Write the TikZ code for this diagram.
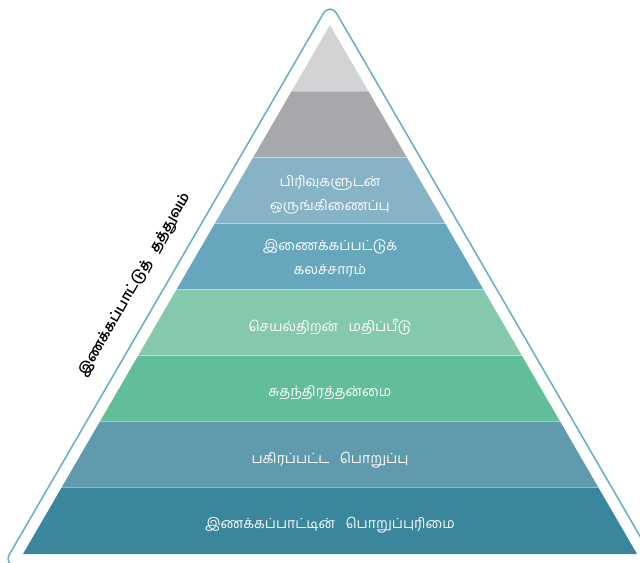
\documentclass[tikz,border=0pt]{standalone}
\usepackage{fontspec}
\usetikzlibrary{calc}
\newfontfamily\tamilfont[Script=Tamil]{Hind Madurai}
\definecolor{pyrgraylight}{HTML}{D2D3D5}
\definecolor{pyrgray}{HTML}{A7A8AC}
\definecolor{pyrbluelight}{HTML}{86B3C5}
\definecolor{pyrblue}{HTML}{66A7BD}
\definecolor{pyrgreenlight}{HTML}{85C9AC}
\definecolor{pyrgreen}{HTML}{62BE9A}
\definecolor{pyrteallight}{HTML}{5F9AAD}
\definecolor{pyrteal}{HTML}{3A869C}
\definecolor{pyrline}{HTML}{6AAFC6}

\begin{document}
\begin{tikzpicture}[
        x=0.025cm, y=-0.025cm,
        layertext/.style={
          text=white,
          align=center,
          font=\tamilfont\fontsize{10}{17}\selectfont
        },
        sidetext/.style={
          text=black,
          rotate=60,
          font=\tamilfont\bfseries\fontsize{10}{14}\selectfont
        },
        separator/.style={
          white,
          opacity=0.35,
          line width=0.6pt
        },
        outline/.style={
          pyrline,
          line width=1.1pt,
          rounded corners=10
        }
      ]
      \useasboundingbox (0,0) rectangle (640,562);
      \clip (0,0) rectangle (640,562);

      \coordinate (apex) at (330,25);
      \coordinate (bl) at (23,554);
      \coordinate (br) at (637,554);
      \foreach \k in {0,...,8} {
        \coordinate (l\k) at ($(apex)!\k/8!(bl)$);
        \coordinate (r\k) at ($(apex)!\k/8!(br)$);
      }

      % layers, top to bottom
      \fill[pyrgraylight] (l0) -- (l1) -- (r1) -- cycle;
      \fill[pyrgray] (l1) -- (l2) -- (r2) -- (r1) -- cycle;
      \fill[pyrbluelight] (l2) -- (l3) -- (r3) -- (r2) -- cycle;
      \fill[pyrblue] (l3) -- (l4) -- (r4) -- (r3) -- cycle;
      \fill[pyrgreenlight] (l4) -- (l5) -- (r5) -- (r4) -- cycle;
      \fill[pyrgreen] (l5) -- (l6) -- (r6) -- (r5) -- cycle;
      \fill[pyrteallight] (l6) -- (l7) -- (r7) -- (r6) -- cycle;
      \fill[pyrteal] (l7) -- (l8) -- (r8) -- (r7) -- cycle;

      \draw[separator] (l1) -- (r1);
      \draw[separator] (l2) -- (r2);
      \draw[separator] (l3) -- (r3);
      \draw[separator] (l4) -- (r4);
      \draw[separator] (l5) -- (r5);
      \draw[separator] (l6) -- (r6);
      \draw[separator] (l7) -- (r7);

      % outer frame
      \draw[outline] (330,2) -- (657.3,566) -- (2.7,566) -- cycle;

      \node[layertext] (units) at (330,195) {பிரிவுகளுடன்\\ஒருங்கிணைப்பு};
      \node[layertext] (culture) at (330,258) {இணைக்கப்பட்டுக்\\கலச்சாரம்};
      \node[layertext] (appraisal) at (330,327) {செயல்திறன்\hspace{0.5em} மதிப்பீடு};
      \node[layertext] (autonomy) at (330,393) {சுதந்திரத்தன்மை};
      \node[layertext] (shared) at (330,460) {பகிரப்பட்ட\hspace{0.5em} பொறுப்பு};
      \node[layertext] (ownership) at (330,525) {இணக்கப்பாட்டின்\hspace{0.5em} பொறுப்புரிமை};

      \node[sidetext] (philosophy) at (135,285) {இணக்கப்பாட்டுத்\hspace{0.5em} தத்துவம்};

      \end{tikzpicture}
\end{document}
